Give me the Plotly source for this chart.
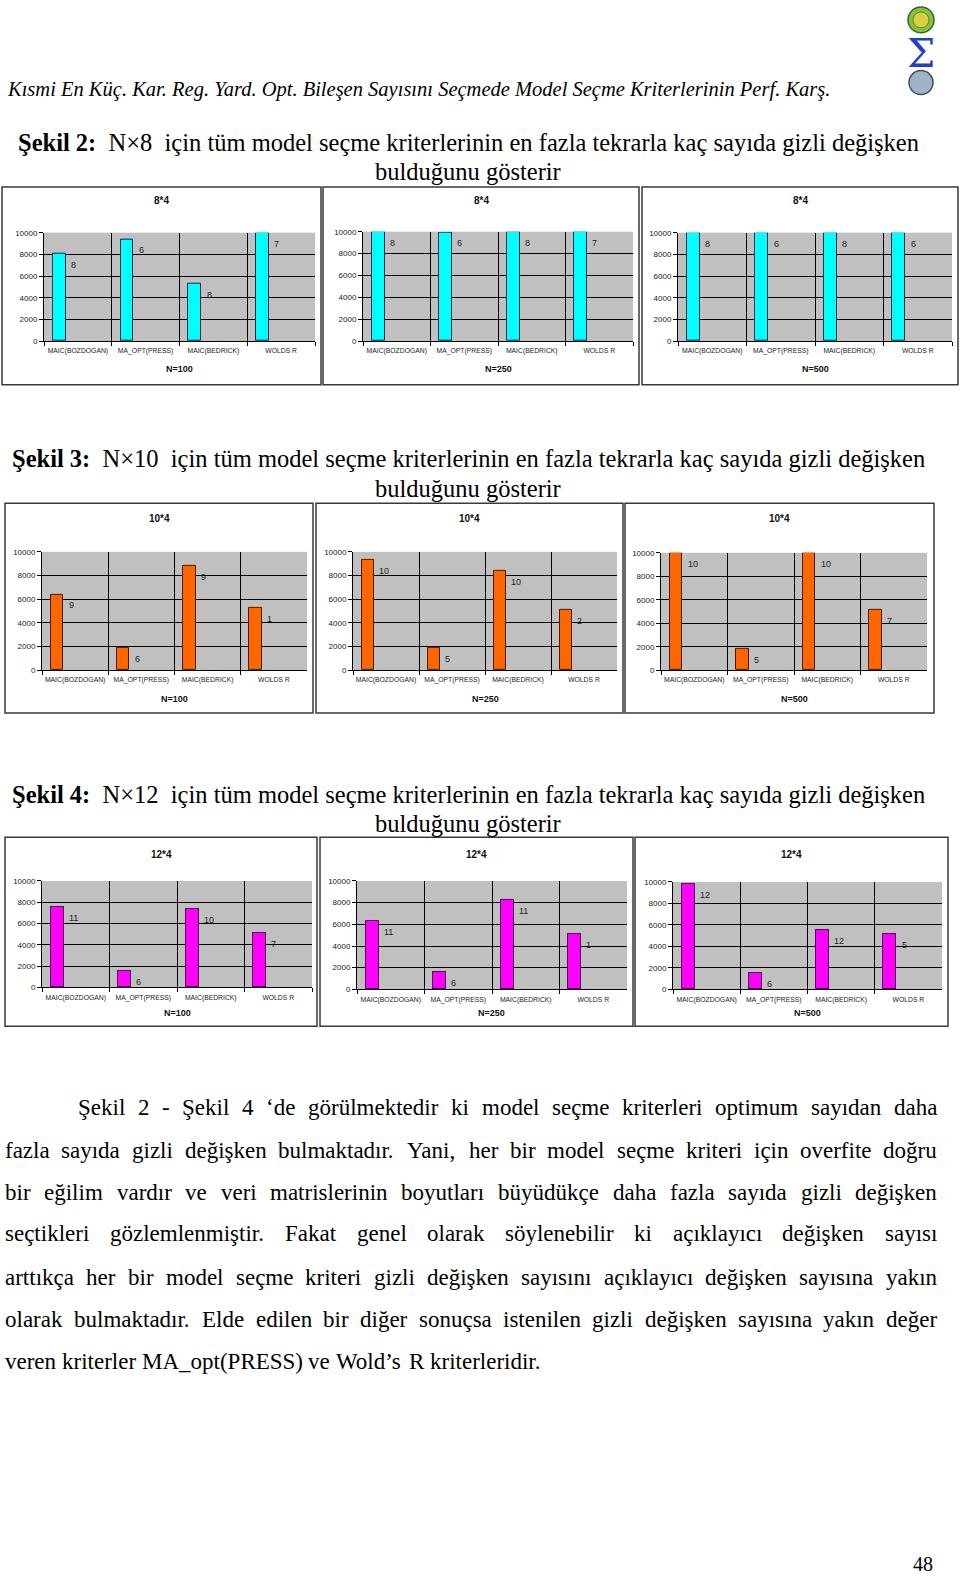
import plotly.graph_objects as go

W, H = 960, 1581

# ---------------- data ----------------
categories = ["MAIC(BOZDOGAN)", "MA_OPT(PRESS)", "MAIC(BEDRICK)", "WOLDS R"]
y_tick_vals = [0, 2000, 4000, 6000, 8000, 10000]
n_labels = ["N=100", "N=250", "N=500"]

# Şekil 2 : 8*4
title_s2 = "8*4"
s2_n100 = [8050, 9400, 5250, 10000]
s2_n100_lbl = [8, 6, 8, 7]
s2_n250 = [10000, 9950, 10000, 10000]
s2_n250_lbl = [8, 6, 8, 7]
s2_n500 = [10000, 10000, 10000, 10000]
s2_n500_lbl = [8, 6, 8, 6]

# Şekil 3 : 10*4
title_s3 = "10*4"
s3_n100 = [6400, 1880, 8800, 5230]
s3_n100_lbl = [9, 6, 9, 1]
s3_n250 = [9350, 1880, 8400, 5070]
s3_n250_lbl = [10, 5, 10, 2]
s3_n500 = [10000, 1780, 10000, 5100]
s3_n500_lbl = [10, 5, 10, 7]

# Şekil 4 : 12*4
title_s4 = "12*4"
s4_n100 = [7570, 1580, 7400, 5130]
s4_n100_lbl = [11, 6, 10, 7]
s4_n250 = [6280, 1600, 8220, 5110]
s4_n250_lbl = [11, 6, 11, 1]
s4_n500 = [9850, 1540, 5560, 5120]
s4_n500_lbl = [12, 6, 12, 5]

header_text = "Kısmi En Küç. Kar. Reg. Yard. Opt. Bileşen Sayısını Seçmede Model Seçme Kriterlerinin Perf. Karş."
fig_captions = [
    ("Şekil 2:", "N×8", "için tüm model seçme kriterlerinin en fazla tekrarla kaç sayıda gizli değişken"),
    ("Şekil 3:", "N×10", "için tüm model seçme kriterlerinin en fazla tekrarla kaç sayıda gizli değişken"),
    ("Şekil 4:", "N×12", "için tüm model seçme kriterlerinin en fazla tekrarla kaç sayıda gizli değişken"),
]
caption_line2 = "bulduğunu gösterir"
para_lines = [
    "Şekil 2 - Şekil 4 ‘de görülmektedir ki model seçme kriterleri optimum sayıdan daha",
    "fazla sayıda gizli değişken bulmaktadır. Yani, her bir model seçme kriteri için overfite doğru",
    "bir eğilim vardır ve veri matrislerinin boyutları büyüdükçe daha fazla sayıda gizli değişken",
    "seçtikleri gözlemlenmiştir. Fakat genel olarak söylenebilir ki açıklayıcı değişken sayısı",
    "arttıkça her bir model seçme kriteri gizli değişken sayısını açıklayıcı değişken sayısına yakın",
    "olarak bulmaktadır. Elde edilen bir diğer sonuçsa istenilen gizli değişken sayısına yakın değer",
    "veren kriterler MA_opt(PRESS) ve Wold’s R kriterleridir.",
]
page_number = "48"

# ---------------- layout helpers ----------------
charts = [
    (title_s2, n_labels[0], s2_n100, s2_n100_lbl),
    (title_s2, n_labels[1], s2_n250, s2_n250_lbl),
    (title_s2, n_labels[2], s2_n500, s2_n500_lbl),
    (title_s3, n_labels[0], s3_n100, s3_n100_lbl),
    (title_s3, n_labels[1], s3_n250, s3_n250_lbl),
    (title_s3, n_labels[2], s3_n500, s3_n500_lbl),
    (title_s4, n_labels[0], s4_n100, s4_n100_lbl),
    (title_s4, n_labels[1], s4_n250, s4_n250_lbl),
    (title_s4, n_labels[2], s4_n500, s4_n500_lbl),
]
plot_px = [(44, 315, 230, 339), (363, 633, 229, 339), (678, 952, 230, 339),
           (42, 307, 551, 670), (353, 617, 551, 670), (661, 927, 552, 670),
           (42, 312, 882, 989), (357, 627, 882, 991), (673, 942, 883, 991)]
box_px = [(2, 321, 184, 383), (323, 639, 184, 383), (642, 958, 184, 383),
          (5, 313, 502, 713), (316, 623, 502, 713), (625, 934, 502, 713),
          (5, 317, 838, 1028), (320, 633, 838, 1028), (635, 948, 838, 1028)]
title_y = [198] * 3 + [517] * 3 + [855] * 3
nlab_y = [367] * 3 + [699] * 3 + [1015] * 3
row_fill = ["#00FFFF", "#FF6600", "#FF00FF"]
row_line = ["#0a2a50", "#4a1a00", "#4a004a"]


def px(x):
    return x / W


def py(y):
    return 1 - y / H


fig = go.Figure()
annotations = []
shapes = []
layout_axes = {}

for i, (ttl, nlab, vals, lbls) in enumerate(charts):
    k = i + 1
    xa = "x" if k == 1 else f"x{k}"
    ya = "y" if k == 1 else f"y{k}"
    row = i // 3
    x0, x1, y0, y1 = plot_px[i]
    fig.add_trace(go.Bar(
        x=categories, y=vals, xaxis=xa, yaxis=ya,
        width=0.19, offset=-0.37,
        marker=dict(color=row_fill[row], line=dict(color=row_line[row], width=1)),
        hoverinfo="skip", showlegend=False,
    ))
    layout_axes["xaxis" if k == 1 else f"xaxis{k}"] = dict(
        domain=[px(x0), px(x1)], anchor=ya, type="category",
        categoryorder="array", categoryarray=categories, range=[-0.5, 3.5],
        tickson="boundaries", showgrid=True, gridcolor="#000000", gridwidth=1,
        ticks="outside", ticklen=4, tickcolor="#000000", tickangle=0,
        ticklabelstandoff=3,
        showline=True, linecolor="#000000", linewidth=1,
        tickfont=dict(family="Liberation Sans, Arial", size=6.8, color="#222222"),
        fixedrange=True,
    )
    layout_axes["yaxis" if k == 1 else f"yaxis{k}"] = dict(
        domain=[py(y1), py(y0)], anchor=xa, range=[0, 10000],
        tickmode="array", tickvals=y_tick_vals, ticktext=[str(v) for v in y_tick_vals],
        showgrid=True, gridcolor="#000000", gridwidth=1, zeroline=False,
        ticks="outside", ticklen=4, tickcolor="#000000",
        showline=True, linecolor="#000000", linewidth=1,
        tickfont=dict(family="Liberation Sans, Arial", size=8, color="#222222"),
        fixedrange=True,
    )
    # data labels
    for j, (v, lb) in enumerate(zip(vals, lbls)):
        annotations.append(dict(
            x=j - 0.13, y=v, xref=xa, yref=ya, text=str(lb),
            xanchor="left", yanchor="top", yshift=-4, showarrow=False,
            font=dict(family="Liberation Sans, Arial", size=9, color="#222222"),
        ))
    bx0, bx1, by0, by1 = box_px[i]
    shapes.append(dict(type="rect", xref="paper", yref="paper",
                       x0=px(bx0), x1=px(bx1), y0=py(by1), y1=py(by0),
                       line=dict(color="#3a3a3a", width=1.5), fillcolor="rgba(0,0,0,0)",
                       layer="below"))
    annotations.append(dict(x=px((bx0 + bx1) / 2), y=py(title_y[i]), xref="paper", yref="paper",
                            text=f"<b>{ttl}</b>", showarrow=False, xanchor="center", yanchor="middle",
                            font=dict(family="Liberation Sans, Arial", size=10, color="#111111")))
    annotations.append(dict(x=px((x0 + x1) / 2), y=py(nlab_y[i]), xref="paper", yref="paper",
                            text=f"<b>{nlab}</b>", showarrow=False, xanchor="center", yanchor="middle",
                            font=dict(family="Liberation Sans, Arial", size=9, color="#111111")))

# ---------------- page text ----------------
SERIF = "Liberation Serif, Times New Roman, serif"
TIMES = {' ': 250, '.': 250, ',': 250, '-': 333, '(': 333, ')': 333, '_': 500, '‘': 333, '’': 333,
         ':': 278, '×': 564,
         'a': 444, 'b': 500, 'c': 444, 'd': 500, 'e': 444, 'f': 333, 'g': 500, 'h': 500, 'i': 278,
         'j': 278, 'k': 500, 'l': 278, 'm': 778, 'n': 500, 'o': 500, 'p': 500, 'q': 500, 'r': 333,
         's': 389, 't': 278, 'u': 500, 'v': 500, 'w': 722, 'x': 500, 'y': 500, 'z': 444,
         'ı': 278, 'ş': 389, 'ç': 444, 'ğ': 500, 'ü': 500, 'ö': 500,
         'A': 722, 'B': 667, 'C': 667, 'D': 722, 'E': 611, 'F': 556, 'G': 722, 'H': 722, 'I': 333,
         'J': 389, 'K': 722, 'L': 611, 'M': 889, 'N': 722, 'O': 722, 'P': 556, 'Q': 722, 'R': 667,
         'S': 556, 'T': 611, 'U': 722, 'V': 722, 'W': 944, 'X': 722, 'Y': 722, 'Z': 611, 'Ş': 556}


def em(s):
    return sum(TIMES.get(c, 500) for c in s) / 1000.0


# running header
annotations.append(dict(x=px(5), y=py(86), xref="paper", yref="paper", text=f"<i>{header_text}</i>",
                        showarrow=False, xanchor="left", yanchor="middle",
                        font=dict(family=SERIF, size=20.5, color="#000000")))

# captions
cap_y = [(139, 168), (457, 487), (795, 824)]
NB = "\u00a0"
for (lab, nx, rest), (ya1, ya2) in zip(fig_captions, cap_y):
    annotations.append(dict(x=px(468), y=py(ya1), xref="paper", yref="paper",
                            text=f"<b>{lab}</b>{NB}{NB}{nx}{NB}{NB}{rest}",
                            showarrow=False, xanchor="center", yanchor="middle",
                            font=dict(family=SERIF, size=24.5, color="#000000")))
    annotations.append(dict(x=px(468), y=py(ya2), xref="paper", yref="paper", text=caption_line2,
                            showarrow=False, xanchor="center", yanchor="middle",
                            font=dict(family=SERIF, size=24.5, color="#000000")))

# justified paragraph
para_left = [77, 4, 4, 4, 4, 4, 4]
para_right = 936
para_y = [1110, 1153, 1195, 1237, 1281, 1323, 1365]
psize = min((para_right - l) / em(t) for t, l in zip(para_lines[:-1], para_left[:-1]))
psize = min(psize, 23.0)
for li, (t, l, yy) in enumerate(zip(para_lines, para_left, para_y)):
    words = t.split(" ")
    ww = [em(w) * psize for w in words]
    if li < len(para_lines) - 1:
        gap = (para_right - l - sum(ww)) / (len(words) - 1)
    else:
        gap = 0.25 * psize
    x = l
    for w, wd in zip(words, ww):
        annotations.append(dict(x=px(x), y=py(yy), xref="paper", yref="paper", text=w,
                                showarrow=False, xanchor="left", yanchor="middle", borderpad=0,
                                font=dict(family=SERIF, size=psize, color="#000000")))
        x += wd + gap

# page number
annotations.append(dict(x=px(923), y=py(1569), xref="paper", yref="paper", text=page_number,
                        showarrow=False, xanchor="center", yanchor="middle",
                        font=dict(family=SERIF, size=20, color="#000000")))

# small logo (top right)
shapes.append(dict(type="circle", xref="paper", yref="paper",
                   x0=px(908), x1=px(934), y0=py(29), y1=py(3),
                   fillcolor="#8cbf3f", line=dict(color="#2e6b2e", width=1.5)))
shapes.append(dict(type="circle", xref="paper", yref="paper",
                   x0=px(913), x1=px(929), y0=py(24), y1=py(8),
                   fillcolor="#d8d040", line=dict(color="#5a8a2a", width=1)))
shapes.append(dict(type="circle", xref="paper", yref="paper",
                   x0=px(909), x1=px(933), y0=py(91), y1=py(67),
                   fillcolor="#9fb4c6", line=dict(color="#405060", width=1.5)))
annotations.append(dict(x=px(921), y=py(49), xref="paper", yref="paper", text="Σ",
                        showarrow=False, xanchor="center", yanchor="middle",
                        font=dict(family="DejaVu Serif, serif", size=40, color="#1f3fc4")))

fig.update_layout(
    width=W, height=H, autosize=False,
    margin=dict(l=0, r=0, t=0, b=0),
    paper_bgcolor="#ffffff", plot_bgcolor="#c0c0c0",
    bargap=0, showlegend=False,
    annotations=annotations, shapes=shapes,
    **layout_axes,
)

fig.write_html("out.html", config={"displayModeBar": False},
               post_script="document.body.style.margin='0';document.body.style.overflow='hidden';")
